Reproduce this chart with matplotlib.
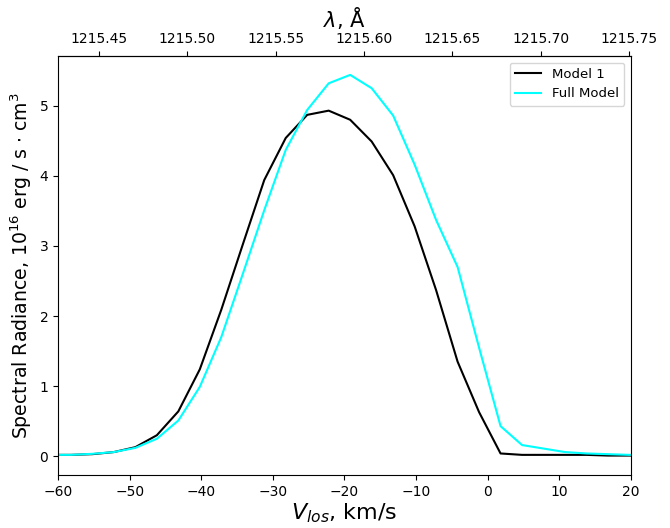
import numpy as np
import matplotlib
matplotlib.use("Agg")
from matplotlib import pyplot as plt

LAMBDA0 = 1215.67
C_KMS = 3.0e5

v_model1 = [-61.2, -58.2, -55.2, -52.2, -49.2, -46.2, -43.2, -40.2, -37.2, -34.2,
            -31.2, -28.2, -25.2, -22.2, -19.2, -16.2, -13.2, -10.2, -7.2, -4.2,
            -1.2, 1.8, 4.8, 7.8, 10.8, 13.8, 16.8, 19.8, 22.8]
model1 = [0.02, 0.02, 0.03, 0.06, 0.13, 0.30, 0.64, 1.24, 2.09, 3.02,
          3.94, 4.54, 4.87, 4.93, 4.80, 4.49, 4.01, 3.28, 2.37, 1.35,
          0.63, 0.04, 0.02, 0.02, 0.02, 0.02, 0.01, 0.01, 0.01]

v_full = [-61.2, -58.2, -55.2, -52.2, -49.2, -46.2, -43.2, -40.2, -37.2, -34.2,
          -31.2, -28.2, -25.2, -22.2, -19.2, -16.2, -13.2, -10.2, -7.2, -4.2,
          -1.2, 1.8, 4.8, 7.8, 10.8, 13.8, 16.8, 19.8, 22.8]
full_model = [0.02, 0.02, 0.035, 0.06, 0.12, 0.25, 0.51, 0.99, 1.70, 2.60,
              3.51, 4.37, 4.94, 5.32, 5.44, 5.25, 4.86, 4.16, 3.37, 2.70,
              1.55, 0.43, 0.16, 0.11, 0.06, 0.04, 0.03, 0.02, 0.02]

lam_ticks = [1215.45, 1215.50, 1215.55, 1215.60, 1215.65, 1215.70, 1215.75]


def v2l(v):
    return LAMBDA0 * (1 + np.asarray(v) / C_KMS)


def l2v(lam):
    return (np.asarray(lam) / LAMBDA0 - 1) * C_KMS


fig = plt.figure(figsize=(6.7, 5.28), dpi=100)
ax = fig.add_axes([0.0866, 0.100, 0.855, 0.794])

ax.plot(v_model1, model1, color="black", lw=1.5, label="Model 1")
ax.plot(v_full, full_model, color="cyan", lw=1.5, label="Full Model")

ax.set_xlim(-60, 20)
ax.set_ylim(-0.27, 5.71)
ax.set_xlabel(r"$V_{los}$, km/s", fontsize=16, labelpad=2)
ax.set_ylabel(r"Spectral Radiance, $10^{16}$ erg / s $\cdot$ cm$^3$", fontsize=13.6)
ax.tick_params(labelsize=10)
ax.legend(loc="upper right", fontsize=9.5)

top = ax.secondary_xaxis("top", functions=(v2l, l2v))
top.set_xticks(lam_ticks)
top.set_xticklabels(["%.2f" % t for t in lam_ticks])
top.tick_params(labelsize=10)
top.set_xlabel(r"$\lambda$, Å", fontsize=15, labelpad=4)

fig.savefig("out.png", dpi=100)
